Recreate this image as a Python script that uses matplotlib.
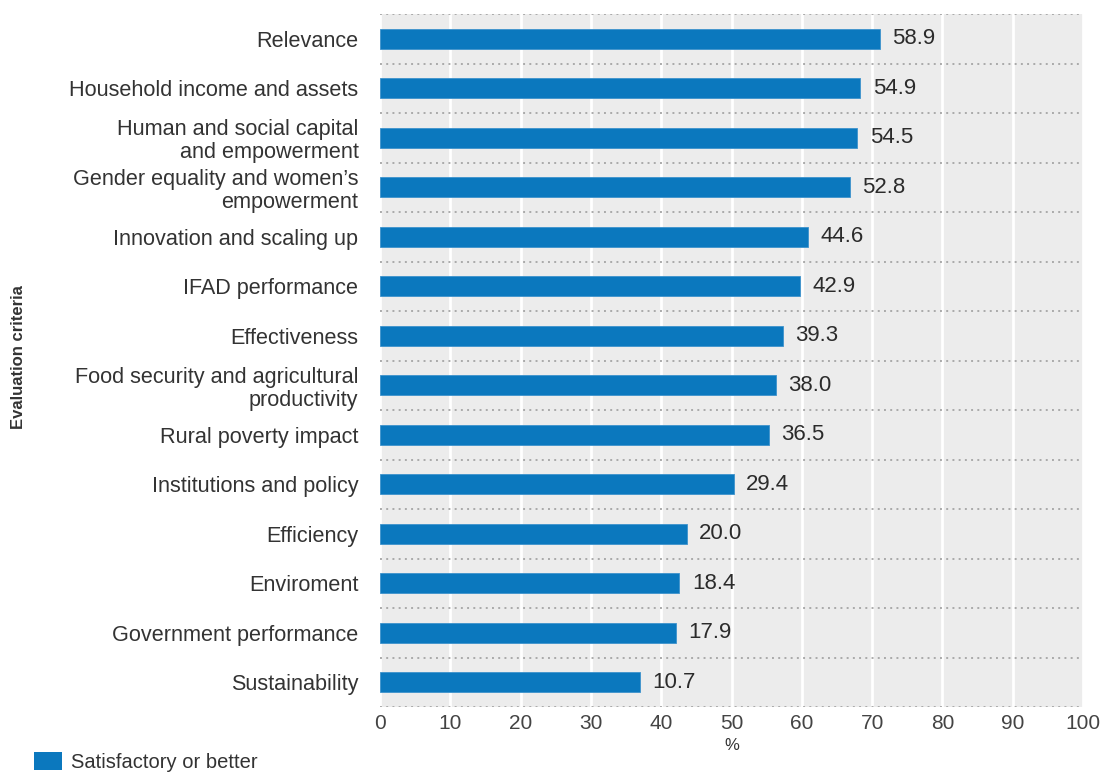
import matplotlib.pyplot as plt
from matplotlib.patches import Patch

plt.rcParams['font.family'] = ['Liberation Sans', 'DejaVu Sans']

# criteria, top to bottom
criteria = ["Relevance",
            "Household income and assets",
            "Human and social capital\nand empowerment",
            "Gender equality and women\u2019s\nempowerment",
            "Innovation and scaling up",
            "IFAD performance",
            "Effectiveness",
            "Food security and agricultural\nproductivity",
            "Rural poverty impact",
            "Institutions and policy",
            "Efficiency",
            "Enviroment",
            "Government performance",
            "Sustainability"]

# bar lengths as drawn (%)
bar_values = [71.1, 68.3, 67.9, 66.8, 60.9, 59.7, 57.3,
              56.3, 55.3, 50.3, 43.6, 42.6, 42.1, 37.0]

# printed labels
label_values = [58.9, 54.9, 54.5, 52.8, 44.6, 42.9, 39.3,
                38.0, 36.5, 29.4, 20.0, 18.4, 17.9, 10.7]

x_ticks = list(range(0, 101, 10))

bar_color = "#0b78be"

fig = plt.figure(figsize=(11.01, 7.78), dpi=100, facecolor='w')
ax = fig.add_axes([380/1101., 1-707/778., (1083-380)/1101., (707-14)/778.])
ax.set_facecolor("#ececec")

ypos = list(range(len(criteria)))
ax.barh(ypos, bar_values, height=0.41, color=bar_color,
        edgecolor="#3d92cc", linewidth=0.6, zorder=3)

for y, v, lab in zip(ypos, bar_values, label_values):
    ax.annotate("%.1f" % lab, (v, y), xytext=(9, 0),
                textcoords="offset points", va="center", ha="left",
                fontsize=16, color="#2b2b2b", zorder=4)

# dotted separators between rows
for i in range(len(criteria) + 1):
    ax.axhline(i - 0.5, color="#aaaaaa", linestyle=(0, (1, 2.2)),
               linewidth=1.4, zorder=2)

ax.set_xlim(0, 100)
ax.set_ylim(len(criteria) - 0.5, -0.5)
ax.set_xticks(x_ticks)
ax.xaxis.grid(True, color="white", linewidth=2, zorder=1)
ax.set_axisbelow(True)

ax.set_yticks(ypos)
ax.set_yticklabels(criteria, fontsize=15.6, color="#333333",
                   linespacing=1.12)
ax.tick_params(axis='y', length=0, pad=15.5)
ax.tick_params(axis='x', length=0, pad=5, labelsize=15,
               labelcolor="#444444")

for s in ax.spines.values():
    s.set_visible(False)

ax.set_xlabel("%", fontsize=12, color="#333333", labelpad=4)
fig.text(19/1101., 1-357/778., "Evaluation criteria", rotation=90,
         ha="center", va="center", fontsize=12, fontweight="bold",
         color="#333333")

fig.legend(handles=[Patch(facecolor=bar_color, label="Satisfactory or better")],
           loc="lower left", bbox_to_anchor=(22/1101., -6/778.),
           frameon=False, fontsize=14.5, handlelength=1.4,
           handleheight=1.0, handletextpad=0.45, labelcolor="#333333",
           borderpad=0.1)

fig.savefig("out.png", dpi=100, facecolor='w')
